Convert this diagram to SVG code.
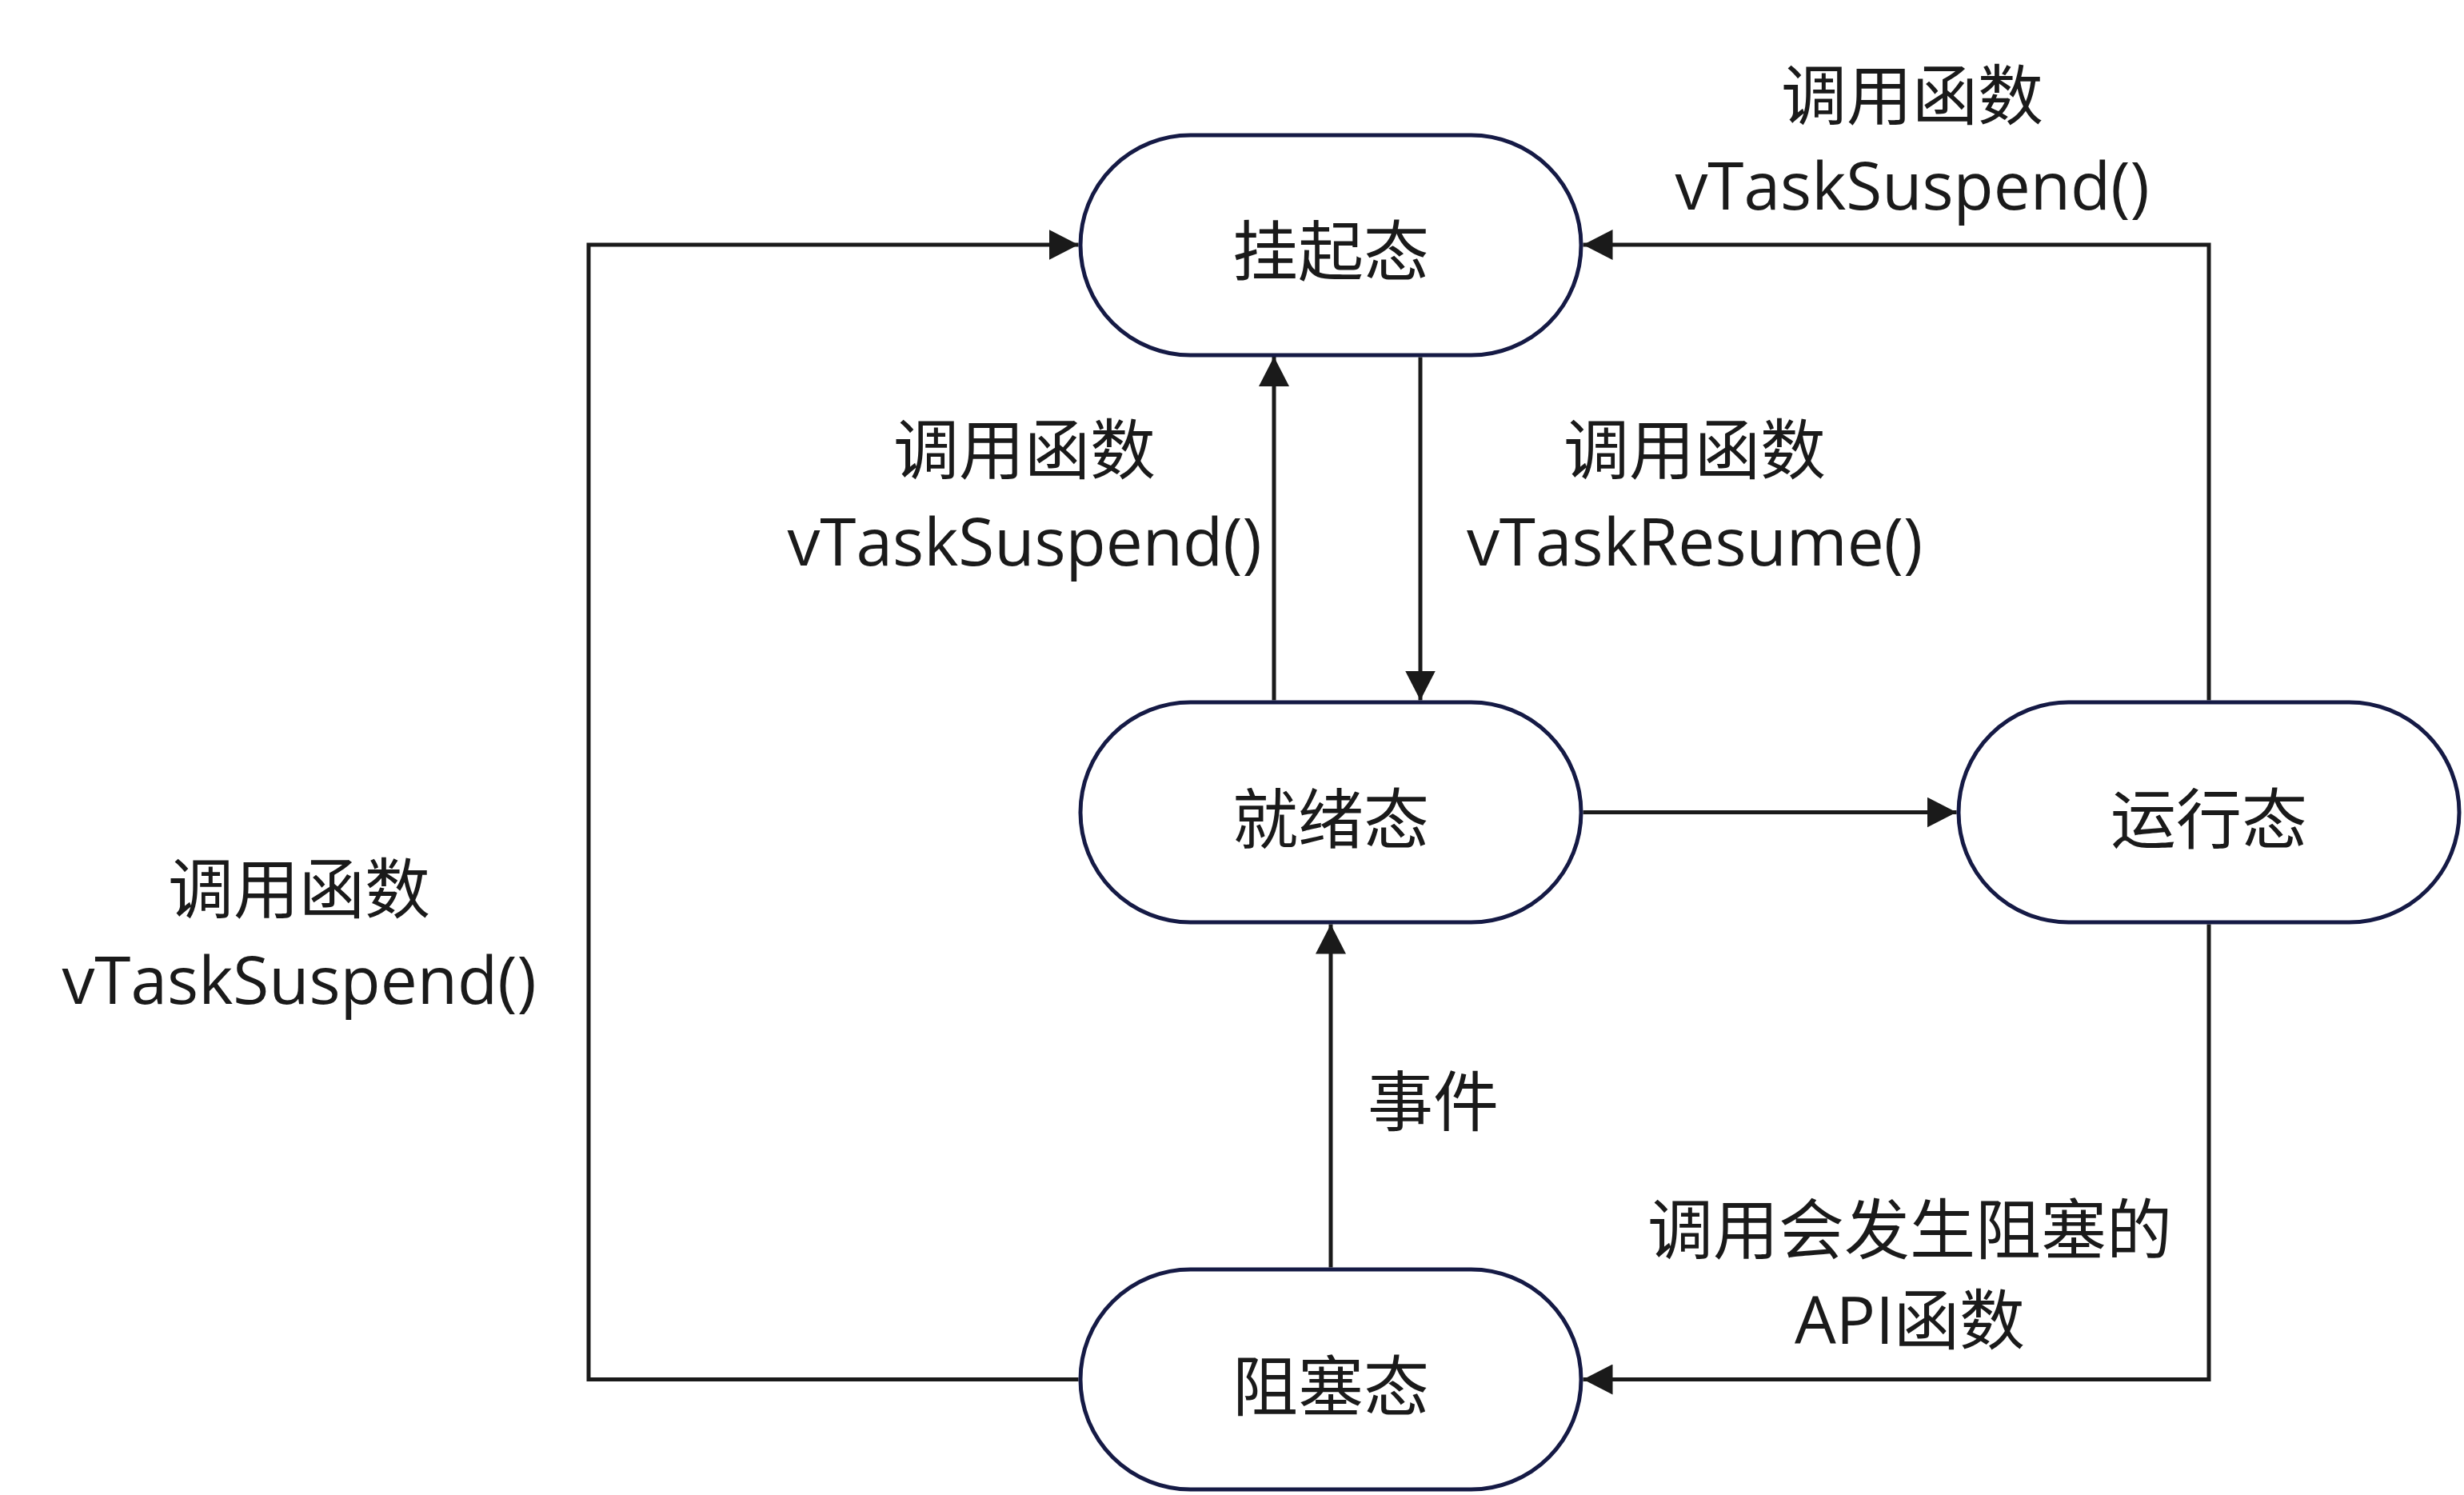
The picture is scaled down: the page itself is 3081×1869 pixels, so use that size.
<svg xmlns="http://www.w3.org/2000/svg" width="3081" height="1869" viewBox="0 0 3081 1869">
  <style>
    .node { fill: #ffffff; stroke: #151a45; stroke-width: 5; }
    .conn { fill: none; stroke: #1a1a1a; stroke-width: 5; }
    .t { font-family: "Open Sans", "Noto Sans CJK SC", sans-serif; font-size: 82px; fill: #1a1a1a; text-anchor: middle; }
  </style>
  <defs>
    <marker id="arrow" viewBox="0 0 37 38" refX="37" refY="19" markerWidth="37" markerHeight="38" markerUnits="userSpaceOnUse" orient="auto">
      <path d="M0,0 L37,19 L0,38 Z" fill="#1a1a1a"/>
    </marker>
  </defs>
  <rect width="3081" height="1869" fill="#ffffff"/>

  <g id="connectors">
    <path class="conn" d="M1593,875.5 L1593,446" marker-end="url(#arrow)"/>
    <path class="conn" d="M1776,446.5 L1776,875.5" marker-end="url(#arrow)"/>
    <path class="conn" d="M1979.5,1015.5 L2446.5,1015.5" marker-end="url(#arrow)"/>
    <path class="conn" d="M2762,875.5 L2762,306 L1979.5,306" marker-end="url(#arrow)"/>
    <path class="conn" d="M2762,1155.5 L2762,1724.5 L1979.5,1724.5" marker-end="url(#arrow)"/>
    <path class="conn" d="M1348.5,1724.5 L736,1724.5 L736,306 L1348.5,306" marker-end="url(#arrow)"/>
    <path class="conn" d="M1664,1584.5 L1664,1155.5" marker-end="url(#arrow)"/>
  </g>

  <g id="labels">
    <text class="t" x="2391" y="149">调用函数</text>
    <text class="t" x="2391" y="262">vTaskSuspend()</text>
    <text class="t" x="1281" y="592">调用函数</text>
    <text class="t" x="1281" y="707">vTaskSuspend()</text>
    <text class="t" x="2119" y="592">调用函数</text>
    <text class="t" x="2119" y="707">vTaskResume()</text>
    <text class="t" x="374" y="1141">调用函数</text>
    <text class="t" x="374" y="1255">vTaskSuspend()</text>
    <text class="t" x="1792" y="1407">事件</text>
    <text class="t" x="2388" y="1567">调用会发生阻塞的</text>
    <text class="t" x="2388" y="1680">API函数</text>
  </g>

  <g id="node-suspended">
    <rect class="node" x="1351" y="169" width="626" height="275" rx="137.5" ry="137.5"/>
    <text class="t" x="1664" y="344">挂起态</text>
  </g>
  <g id="node-ready">
    <rect class="node" x="1351" y="878" width="626" height="275" rx="137.5" ry="137.5"/>
    <text class="t" x="1664" y="1054">就绪态</text>
  </g>
  <g id="node-running">
    <rect class="node" x="2449" y="878" width="626" height="275" rx="137.5" ry="137.5"/>
    <text class="t" x="2762" y="1054">运行态</text>
  </g>
  <g id="node-blocked">
    <rect class="node" x="1351" y="1587" width="626" height="275" rx="137.5" ry="137.5"/>
    <text class="t" x="1664" y="1763">阻塞态</text>
  </g>
</svg>
